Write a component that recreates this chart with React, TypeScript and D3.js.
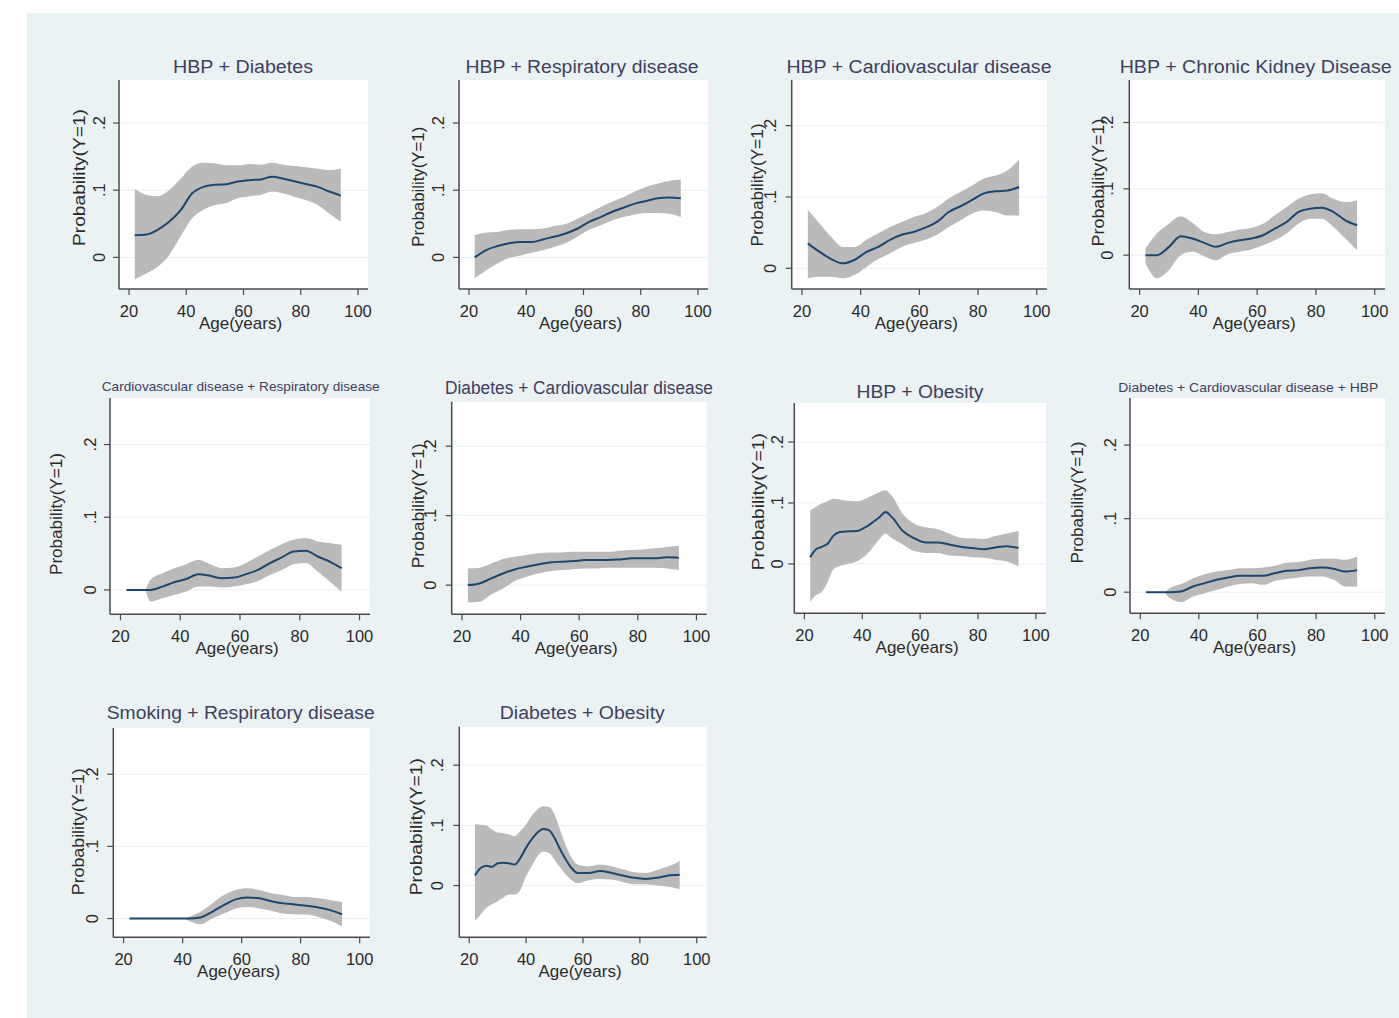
import React from "react";
import * as d3 from "d3";

// ---- data (age in years, predicted probability) ----
const agesStd = [22, 26, 30, 34, 38, 42, 46, 50, 54, 58, 62, 66, 70, 74, 78, 82, 86, 90, 94];
const agesLate = [22, 28, 30, 34, 38, 42, 46, 50, 54, 58, 62, 66, 70, 74, 78, 82, 86, 90, 94];
const agesObesity = [22, 24, 26, 28, 30, 32, 34, 38, 42, 46, 48, 50, 54, 58, 62, 66, 70, 74, 78, 82, 86, 90, 94];
const agesSmoking = [22, 40, 42, 46, 50, 54, 58, 62, 66, 70, 74, 78, 82, 86, 90, 94];
const agesDiabObesity = [22, 24, 26, 28, 30, 32, 34, 36, 38, 40, 42, 44, 46, 48, 50, 52, 54, 56, 58, 62, 66, 70, 74, 78, 82, 86, 90, 94];

const hbpDiabMean = [0.033, 0.034, 0.041, 0.053, 0.07, 0.095, 0.105, 0.108, 0.109, 0.113, 0.115, 0.116, 0.12, 0.117, 0.113, 0.109, 0.105, 0.098, 0.092];
const hbpDiabHi = [0.102, 0.093, 0.091, 0.1, 0.117, 0.135, 0.141, 0.14, 0.137, 0.137, 0.139, 0.138, 0.141, 0.138, 0.136, 0.134, 0.132, 0.13, 0.132];
const hbpDiabLo = [-0.033, -0.024, -0.014, 0.003, 0.031, 0.058, 0.071, 0.078, 0.081, 0.088, 0.091, 0.093, 0.098, 0.095, 0.09, 0.085, 0.078, 0.065, 0.053];

const hbpRespMean = [0.0, 0.011, 0.017, 0.021, 0.023, 0.023, 0.027, 0.031, 0.036, 0.043, 0.053, 0.06, 0.068, 0.074, 0.08, 0.084, 0.088, 0.089, 0.088];
const hbpRespHi = [0.033, 0.037, 0.038, 0.041, 0.042, 0.042, 0.043, 0.047, 0.05, 0.058, 0.066, 0.075, 0.083, 0.09, 0.098, 0.105, 0.11, 0.114, 0.116];
const hbpRespLo = [-0.031, -0.019, -0.009, -0.001, 0.003, 0.007, 0.011, 0.016, 0.022, 0.031, 0.041, 0.048, 0.055, 0.06, 0.064, 0.066, 0.066, 0.065, 0.06];

const hbpCvdMean = [0.035, 0.023, 0.013, 0.007, 0.012, 0.023, 0.03, 0.04, 0.047, 0.051, 0.057, 0.065, 0.079, 0.087, 0.096, 0.105, 0.108, 0.109, 0.114];
const hbpCvdHi = [0.082, 0.063, 0.044, 0.03, 0.03, 0.04, 0.049, 0.058, 0.065, 0.072, 0.077, 0.086, 0.098, 0.107, 0.116, 0.126, 0.13, 0.137, 0.153];
const hbpCvdLo = [-0.014, -0.012, -0.012, -0.014, -0.009, 0.002, 0.013, 0.021, 0.03, 0.035, 0.04, 0.047, 0.058, 0.067, 0.077, 0.081, 0.079, 0.074, 0.074];

const hbpCkdMean = [0, 0, 0.0125, 0.0285, 0.025, 0.0185, 0.0125, 0.0185, 0.0225, 0.025, 0.03, 0.04, 0.05, 0.065, 0.07, 0.0715, 0.065, 0.0525, 0.045];
const hbpCkdHi = [0.01, 0.0335, 0.0475, 0.0585, 0.0485, 0.035, 0.0315, 0.035, 0.0385, 0.0415, 0.0475, 0.06, 0.0725, 0.085, 0.0915, 0.0935, 0.085, 0.08, 0.0825];
const hbpCkdLo = [-0.0125, -0.035, -0.0225, 0, 0.005, -0.0015, -0.0075, 0.0015, 0.005, 0.0085, 0.015, 0.0225, 0.0325, 0.0475, 0.055, 0.055, 0.0425, 0.025, 0.0075];

const cvdRespMean = [0, 0, 0, 0.0046, 0.0106, 0.015, 0.0217, 0.0194, 0.016, 0.017, 0.0217, 0.0276, 0.0369, 0.0447, 0.053, 0.054, 0.046, 0.039, 0.03];
const cvdRespHi = [0, 0, 0.0138, 0.023, 0.03, 0.0355, 0.0415, 0.0355, 0.03, 0.031, 0.037, 0.046, 0.055, 0.063, 0.069, 0.0714, 0.0668, 0.0645, 0.062];
const cvdRespLo = [0, 0, -0.016, -0.0115, -0.0069, -0.0023, 0.0046, 0.0046, 0.0032, 0.0046, 0.0078, 0.0124, 0.0207, 0.0276, 0.0355, 0.0369, 0.0253, 0.0115, -0.0023];

const diabCvdMean = [0, 0.0024, 0.0096, 0.0168, 0.0226, 0.0264, 0.0298, 0.0327, 0.0337, 0.0346, 0.036, 0.036, 0.036, 0.037, 0.0385, 0.0385, 0.0385, 0.04, 0.0394];
const diabCvdHi = [0.024, 0.025, 0.031, 0.0375, 0.041, 0.0433, 0.0457, 0.047, 0.047, 0.048, 0.048, 0.048, 0.048, 0.0495, 0.0505, 0.0514, 0.053, 0.055, 0.0567];
const diabCvdLo = [-0.025, -0.024, -0.0135, -0.0048, 0.0058, 0.012, 0.0168, 0.02, 0.0216, 0.023, 0.024, 0.024, 0.025, 0.025, 0.025, 0.025, 0.025, 0.024, 0.0216];

const hbpObMean = [0.011, 0.024, 0.028, 0.033, 0.046, 0.052, 0.053, 0.054, 0.063, 0.077, 0.085, 0.078, 0.054, 0.042, 0.035, 0.035, 0.032, 0.028, 0.026, 0.024, 0.027, 0.029, 0.026];
const hbpObHi = [0.088, 0.094, 0.099, 0.103, 0.107, 0.106, 0.104, 0.103, 0.109, 0.118, 0.121, 0.113, 0.082, 0.066, 0.06, 0.057, 0.05, 0.043, 0.042, 0.041, 0.046, 0.05, 0.054];
const hbpObLo = [-0.062, -0.051, -0.046, -0.03, -0.009, -0.004, -0.001, 0.004, 0.018, 0.041, 0.05, 0.043, 0.032, 0.021, 0.018, 0.018, 0.014, 0.013, 0.011, 0.01, 0.007, 0.004, -0.004];

const diabCvdHbpMean = [0, 0, 0, 0.001, 0.0077, 0.0123, 0.0168, 0.02, 0.0223, 0.0223, 0.0223, 0.026, 0.029, 0.03, 0.0327, 0.0336, 0.0318, 0.028, 0.03];
const diabCvdHbpHi = [0, 0, 0.0055, 0.011, 0.019, 0.0245, 0.028, 0.03, 0.0327, 0.0327, 0.0336, 0.036, 0.04, 0.041, 0.044, 0.0455, 0.0455, 0.044, 0.0486];
const diabCvdHbpLo = [0, 0, -0.008, -0.0136, -0.006, -0.0014, 0.003, 0.0077, 0.011, 0.0123, 0.01, 0.0155, 0.018, 0.02, 0.0214, 0.0214, 0.0168, 0.0077, 0.0077];

const smokRespMean = [0, 0, 0, 0.0014, 0.0093, 0.0186, 0.0265, 0.029, 0.028, 0.024, 0.021, 0.0195, 0.0177, 0.0153, 0.0116, 0.006];
const smokRespHi = [0, 0, 0.002, 0.0093, 0.021, 0.0326, 0.0395, 0.042, 0.0395, 0.035, 0.0326, 0.03, 0.03, 0.028, 0.0256, 0.023];
const smokRespLo = [0, 0, -0.003, -0.008, 0, 0.007, 0.014, 0.016, 0.014, 0.0107, 0.007, 0.006, 0.0056, 0.0023, -0.003, -0.0107];

const diabObMean = [0.0167, 0.029, 0.033, 0.031, 0.037, 0.038, 0.037, 0.035, 0.046, 0.063, 0.077, 0.088, 0.094, 0.092, 0.079, 0.06, 0.043, 0.029, 0.021, 0.021, 0.024, 0.021, 0.0167, 0.0128, 0.011, 0.0128, 0.0167, 0.018];
const diabObHi = [0.102, 0.101, 0.1, 0.093, 0.088, 0.087, 0.085, 0.082, 0.091, 0.102, 0.116, 0.127, 0.132, 0.131, 0.118, 0.092, 0.066, 0.046, 0.035, 0.032, 0.035, 0.032, 0.027, 0.022, 0.021, 0.026, 0.032, 0.041];
const diabObLo = [-0.059, -0.048, -0.037, -0.031, -0.026, -0.02, -0.015, -0.015, -0.007, 0.016, 0.032, 0.049, 0.056, 0.054, 0.043, 0.03, 0.018, 0.009, 0.004, 0.009, 0.011, 0.01, 0.006, 0.002, 0.002, 0.0, -0.002, -0.006];

const xTicks = [20, 40, 60, 80, 100];
const yTicks = [0, 0.1, 0.2];
const yTickLabels = ["0", ".1", ".2"];

const panels = [
  { title: "HBP + Diabetes", ages: agesStd, mean: hbpDiabMean, hi: hbpDiabHi, lo: hbpDiabLo, yMin: -0.047 },
  { title: "HBP + Respiratory disease", ages: agesStd, mean: hbpRespMean, hi: hbpRespHi, lo: hbpRespLo, yMin: -0.047 },
  { title: "HBP + Cardiovascular disease", ages: agesStd, mean: hbpCvdMean, hi: hbpCvdHi, lo: hbpCvdLo, yMin: -0.029 },
  { title: "HBP + Chronic Kidney Disease", ages: agesStd, mean: hbpCkdMean, hi: hbpCkdHi, lo: hbpCkdLo, yMin: -0.051 },
  { title: "Cardiovascular disease + Respiratory disease", ages: agesLate, mean: cvdRespMean, hi: cvdRespHi, lo: cvdRespLo, yMin: -0.0335 },
  { title: "Diabetes + Cardiovascular disease", ages: agesStd, mean: diabCvdMean, hi: diabCvdHi, lo: diabCvdLo, yMin: -0.042 },
  { title: "HBP + Obesity", ages: agesObesity, mean: hbpObMean, hi: hbpObHi, lo: hbpObLo, yMin: -0.081 },
  { title: "Diabetes + Cardiovascular disease + HBP", ages: agesLate, mean: diabCvdHbpMean, hi: diabCvdHbpHi, lo: diabCvdHbpLo, yMin: -0.0287 },
  { title: "Smoking + Respiratory disease", ages: agesSmoking, mean: smokRespMean, hi: smokRespHi, lo: smokRespLo, yMin: -0.026 },
  { title: "Diabetes + Obesity", ages: agesDiabObesity, mean: diabObMean, hi: diabObHi, lo: diabObLo, yMin: -0.086 },
];

// plot boxes and label placement for each panel (pixels)
const layout = [
  { l: 119, t: 80, r: 368, b: 289, tickCx: 99, ytX: 81, ytY: 177.5, ytLen: 137, tX: 243, tY: 72.7, tLen: 140, tSize: 18 },
  { l: 459, t: 80, r: 708, b: 289, tickCx: 438, ytX: 420, ytY: 186.7, ytLen: 120, tX: 582, tY: 72.7, tLen: 233, tSize: 18 },
  { l: 791.7, t: 80, r: 1047, b: 289, tickCx: 770, ytX: 758.3, ytY: 185, ytLen: 123, tX: 919, tY: 72.7, tLen: 265, tSize: 18 },
  { l: 1129.3, t: 80, r: 1385, b: 289, tickCx: 1106.7, ytX: 1100, ytY: 182.5, ytLen: 128, tX: 1255.7, tY: 72.7, tLen: 272, tSize: 18 },
  { l: 110, t: 398, r: 370, b: 614.3, tickCx: 90, ytX: 57.5, ytY: 514, ytLen: 122, tX: 240.7, tY: 391, tLen: 278, tSize: 13.5 },
  { l: 451.7, t: 401.7, r: 706.7, b: 614.3, tickCx: 430, ytX: 420, ytY: 505.8, ytLen: 125, tX: 579, tY: 394.3, tLen: 268, tSize: 18 },
  { l: 794.3, t: 403, r: 1046, b: 613.3, tickCx: 776.7, ytX: 760, ytY: 501.7, ytLen: 137, tX: 920, tY: 397.7, tLen: 127, tSize: 18 },
  { l: 1130, t: 398, r: 1385, b: 613.3, tickCx: 1110, ytX: 1079, ytY: 502.5, ytLen: 122, tX: 1248.3, tY: 391.7, tLen: 260, tSize: 13 },
  { l: 113.3, t: 728, r: 370, b: 937.3, tickCx: 91.7, ytX: 80, ytY: 831.7, ytLen: 127, tX: 240.7, tY: 719.3, tLen: 268, tSize: 18 },
  { l: 459.3, t: 726.7, r: 706.7, b: 937.3, tickCx: 436.7, ytX: 418, ytY: 826.7, ytLen: 137, tX: 582.3, tY: 719.3, tLen: 165, tSize: 18 },
];

const FONT = "'Liberation Sans', Arial, Helvetica, sans-serif";
const AXIS = "#4a4a4a";
const TEXT = "#2a2a2a";

function Panel({ p, box }: { p: any; box: any }) {
  const x = d3.scaleLinear().domain([16.5, 103.5]).range([box.l, box.r]);
  const y = d3.scaleLinear().domain([p.yMin, 0.264]).range([box.b, box.t]);
  const rows = p.ages.map((a: number, i: number) => ({ a, m: p.mean[i], lo: p.lo[i], hi: p.hi[i] }));

  const band = d3
    .area<any>()
    .x((d) => x(d.a))
    .y0((d) => y(d.lo))
    .y1((d) => y(d.hi))
    .curve(d3.curveMonotoneX);
  const line = d3
    .line<any>()
    .x((d) => x(d.a))
    .y((d) => y(d.m))
    .curve(d3.curveMonotoneX);

  return (
    <g>
      <rect x={box.l} y={box.t} width={box.r - box.l} height={box.b - box.t} fill="#ffffff" />
      {yTicks.map((t) => (
        <line key={"g" + t} x1={box.l} x2={box.r} y1={y(t)} y2={y(t)} stroke="#eaf0f0" strokeWidth={1} />
      ))}
      <path d={band(rows) || ""} fill="#bababa" />
      <path d={line(rows) || ""} fill="none" stroke="#1a476f" strokeWidth={2} />

      {/* axes */}
      <line x1={box.l} x2={box.l} y1={box.t} y2={box.b} stroke={AXIS} strokeWidth={1.5} />
      <line x1={box.l} x2={box.r} y1={box.b} y2={box.b} stroke={AXIS} strokeWidth={1.5} />
      {yTicks.map((t, i) => (
        <g key={"y" + t}>
          <line x1={box.l - 6} x2={box.l} y1={y(t)} y2={y(t)} stroke={AXIS} strokeWidth={1.2} />
          <text
            transform={`translate(${box.tickCx + 5.8},${y(t)}) rotate(-90)`}
            textAnchor="middle"
            fontSize={16.5}
            fill={TEXT}
          >
            {yTickLabels[i]}
          </text>
        </g>
      ))}
      {xTicks.map((t) => (
        <g key={"x" + t}>
          <line x1={x(t)} x2={x(t)} y1={box.b} y2={box.b + 6} stroke={AXIS} strokeWidth={1.2} />
          <text x={x(t)} y={box.b + 27.5} textAnchor="middle" fontSize={16.5} fill={TEXT}>
            {t}
          </text>
        </g>
      ))}

      {/* titles */}
      <text x={(box.l + box.r) / 2 - 3} y={box.b + 40} textAnchor="middle" fontSize={17} fill={TEXT}>
        Age(years)
      </text>
      <text
        transform={`translate(${box.ytX + 4.4},${box.ytY}) rotate(-90)`}
        textAnchor="middle"
        fontSize={17}
        fill={TEXT}
        textLength={box.ytLen}
        lengthAdjust="spacingAndGlyphs"
      >
        Probability(Y=1)
      </text>
      <text
        x={box.tX}
        y={box.tY}
        textAnchor="middle"
        fontSize={box.tSize}
        fill="#3e4060"
        textLength={box.tLen}
        lengthAdjust="spacingAndGlyphs"
      >
        {p.title}
      </text>
    </g>
  );
}

export default function App() {
  return (
    <svg
      width={1399}
      height={1018}
      style={{ position: "absolute", left: 0, top: 0, fontFamily: FONT, background: "#ffffff" }}
    >
      <rect x={27} y={13} width={1372} height={1005} fill="#eaf2f3" />
      {panels.map((p, i) => (
        <Panel key={p.title} p={p} box={layout[i]} />
      ))}
    </svg>
  );
}
